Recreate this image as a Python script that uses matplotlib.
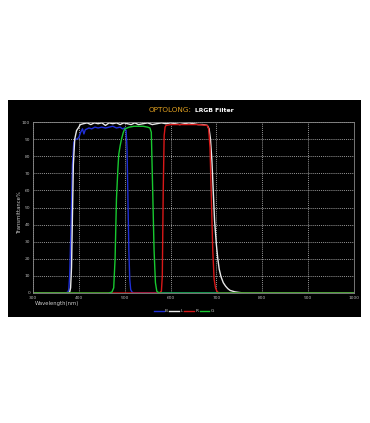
import matplotlib
matplotlib.use("Agg")
import matplotlib.pyplot as plt
from matplotlib.patches import Rectangle

# ---- data ----
b_wl = [300, 370, 376, 378, 380, 383, 386, 389, 392, 396, 400, 404, 408, 411, 414, 418, 422, 428, 435, 442,
        450, 458, 466, 474, 482, 490, 495, 500, 503, 505, 507, 509, 511, 513, 516, 520, 1000]
b_t = [0, 0, 0.5, 2, 10, 40, 75, 88, 90, 90, 91, 94, 96, 93, 95.5, 96, 96.5, 96, 97, 96.5,
       97, 96.5, 97, 97.5, 96.5, 97, 96, 96.5, 95, 85, 55, 25, 8, 2, 0.5, 0, 0]

l_wl = [300, 376, 380, 382, 384, 386, 388, 391, 395, 400, 403, 410, 418, 426, 434, 442, 450, 458, 466, 474,
        482, 490, 498, 506, 514, 522, 530, 540, 550, 560, 570, 580, 590, 600, 610, 620, 630, 640, 650,
        660, 670, 680, 684, 687, 690, 693, 696, 700, 703, 706, 710, 715, 720, 725, 730, 740, 750, 760, 1000]
l_t = [0, 0, 0.5, 3, 15, 45, 75, 90, 95, 97, 98.5, 99, 99.5, 98.5, 99.5, 99, 99.5, 98, 99.5, 99,
       99.5, 98.5, 99.5, 99, 98.5, 99.5, 98.5, 99, 99.5, 98.5, 99, 99.5, 99, 99.5, 99, 98.5, 99, 99.5, 99,
       98.5, 98.5, 98, 96, 90, 78, 60, 42, 28, 20, 14, 9.5, 6, 4, 2.5, 1.5, 0.7, 0.3, 0, 0]

r_wl = [300, 575, 580, 582, 584, 586, 588, 590, 600, 620, 640, 660, 680, 683, 686, 689, 692, 695, 698,
        701, 705, 1000]
r_t = [0, 0, 1, 10, 60, 92, 97, 98, 98.5, 98.5, 98.5, 98.5, 98, 96, 85, 55, 25, 8, 3,
       1, 0, 0]

g_wl = [300, 465, 472, 476, 479, 482, 485, 487, 490, 493, 497, 500, 505, 510, 520, 530, 540, 550, 555,
        558, 561, 564, 567, 570, 575, 1000]
g_t = [0, 0, 0.5, 3, 20, 55, 72, 81, 86, 90, 94, 96, 96.5, 97, 97.5, 97.5, 97.5, 97, 96.5,
       94, 60, 25, 6, 1, 0, 0]

x_ticks = [300, 400, 500, 600, 700, 800, 900, 1000]
y_ticks = [0, 10, 20, 30, 40, 50, 60, 70, 80, 90, 100]

W, H = 370, 423
fig = plt.figure(figsize=(W / 100, H / 100), dpi=100)
fig.patch.set_facecolor("white")

# black panel
fig.patches.append(Rectangle((8 / W, 1 - 317 / H), (361 - 8) / W, (317 - 100) / H,
                             transform=fig.transFigure, facecolor="black", edgecolor="none", zorder=-10))

ax = fig.add_axes([33 / W, 1 - 293 / H, (354 - 33) / W, (293 - 122) / H])
ax.set_facecolor("black")

ax.plot(b_wl, b_t, color="#1f2fd8", lw=1.0, label="B")
ax.plot(l_wl, l_t, color="#e8e8e8", lw=1.0, label="L")
ax.plot(r_wl, r_t, color="#d81818", lw=1.0, label="R")
ax.plot(g_wl, g_t, color="#18c830", lw=1.0, label="G")

ax.set_xlim(300, 1000)
ax.set_ylim(0, 100)
ax.set_xticks(x_ticks)
ax.set_yticks(y_ticks)
ax.tick_params(colors="#bbbbbb", labelsize=3.2, length=0, pad=2)
ax.grid(True, color="#cccccc", linestyle=(0, (1.5, 1.5)), linewidth=0.5)
for s in ax.spines.values():
    s.set_color("#888888")
    s.set_linewidth(0.6)

fig.text(19 / W, 1 - 212 / H, "Transmittance%", rotation=90, color="#cccccc",
         fontsize=3.8, ha="center", va="center")
fig.text(35 / W, 1 - 303 / H, "Wavelength(nm)", color="#cccccc", fontsize=3.8,
         ha="left", va="center")

fig.text(192 / W, 1 - 110 / H, "OPTOLONG:", color="#e0a020", fontsize=5.2,
         ha="right", va="center")
fig.text(195 / W, 1 - 110 / H, "LRGB Filter", color="white", fontsize=4.4,
         fontweight="bold", ha="left", va="center")

leg = fig.legend(loc="center", bbox_to_anchor=(184 / W, 1 - 311 / H), ncol=4, frameon=False,
                 fontsize=3.2, handlelength=2.2, handletextpad=0.3, columnspacing=0.3,
                 labelcolor="#cccccc")

fig.savefig("out.png", dpi=100, facecolor="white")
